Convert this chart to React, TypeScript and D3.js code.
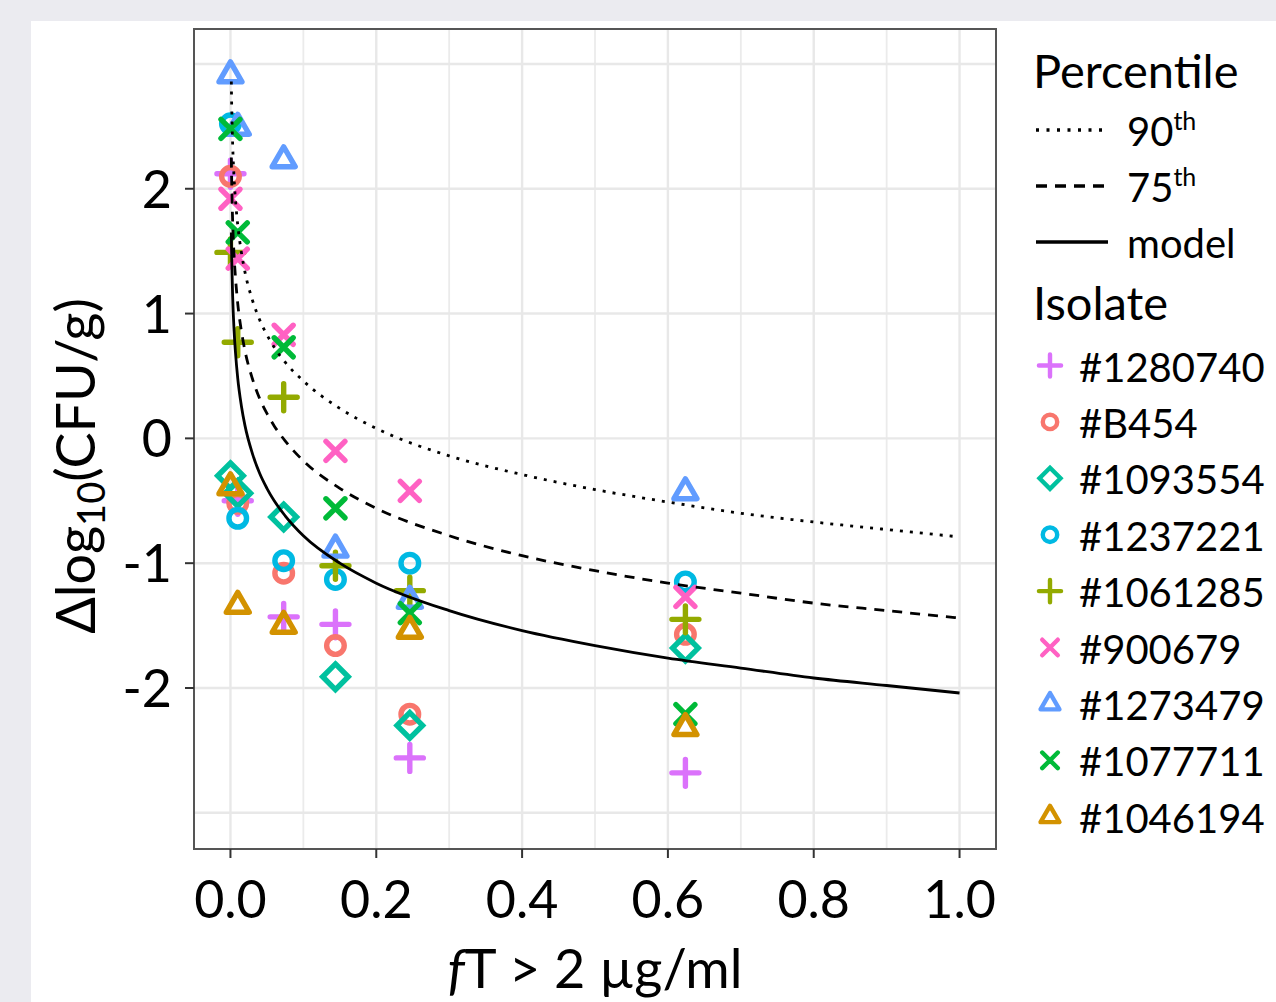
import React from 'react';
import * as d3 from 'd3';

// ---- data ----
const isolates = ['#1280740', '#B454', '#1093554', '#1237221', '#1061285', '#900679', '#1273479', '#1077711', '#1046194'];
const isolateColors = ['#DB72FB', '#F8766D', '#00C19F', '#00B9E3', '#93AA00', '#FF61C3', '#619CFF', '#00BA38', '#D39200'];
const isolateShapes = ['plus', 'circle', 'diamond', 'circle', 'plus', 'cross', 'triangle', 'cross', 'triangle'];

const doses = [0, 0.01, 0.073, 0.144, 0.246, 0.624];
const v1280740 = [2.12, -0.5, -1.43, -1.49, -2.56, -2.68];
const vB454 = [2.1, -0.52, -1.08, -1.66, -2.21, -1.57];
const v1093554 = [-0.3, -0.44, -0.63, -1.91, -2.3, -1.68];
const v1237221 = [2.52, -0.64, -0.98, -1.13, -1.0, -1.15];
const v1061285 = [1.49, 0.77, 0.33, -1.02, -1.22, -1.45];
const v900679 = [1.92, 1.44, 0.83, -0.1, -0.42, -1.27];
const v1273479 = [2.91, 2.49, 2.23, -0.89, -1.3, -0.43];
const v1077711 = [2.48, 1.65, 0.73, -0.56, -1.4, -2.21];
const v1046194 = [-0.39, -1.34, -1.5, null, -1.54, -2.32];
const isolateValues = [v1280740, vB454, v1093554, v1237221, v1061285, v900679, v1273479, v1077711, v1046194];

const curveX = [0.0012, 0.0015, 0.002, 0.003, 0.005, 0.007, 0.01, 0.015, 0.02, 0.03, 0.04, 0.05, 0.06, 0.075, 0.1, 0.15, 0.2, 0.3, 0.4, 0.5, 0.6, 0.7, 0.8, 0.9, 1.0];
const modelY = [1.65, 1.52, 1.37, 1.14, 0.86, 0.68, 0.48, 0.26, 0.1, -0.12, -0.28, -0.4, -0.5, -0.62, -0.78, -1.0, -1.16, -1.38, -1.54, -1.66, -1.76, -1.84, -1.92, -1.98, -2.04];
const p75Y = [2.25, 2.12, 1.97, 1.74, 1.46, 1.28, 1.08, 0.86, 0.7, 0.48, 0.32, 0.2, 0.1, -0.02, -0.18, -0.4, -0.56, -0.78, -0.94, -1.06, -1.16, -1.24, -1.32, -1.38, -1.44];
const p90Y = [2.86, 2.73, 2.58, 2.36, 2.08, 1.9, 1.71, 1.49, 1.33, 1.11, 0.95, 0.83, 0.73, 0.61, 0.46, 0.24, 0.08, -0.14, -0.29, -0.41, -0.51, -0.6, -0.67, -0.73, -0.79];

const xTicks = [0, 0.2, 0.4, 0.6, 0.8, 1.0];
const xMinor = [0.1, 0.3, 0.5, 0.7, 0.9];
const yTicks = [-2, -1, 0, 1, 2];
const yGrid = [-3, -2, -1, 0, 1, 2, 3];

const percentileLabels = ['90', '75', 'model'];
const percentileDash = ['3 7', '10 8', null];

const FONT = 'Lato, "Open Sans", sans-serif';

function Marker({ shape, cx, cy, color, k = 1 }: any) {
  const sw = 5.4 * k;
  if (shape === 'circle') return <circle cx={cx} cy={cy} r={8.8 * k} fill="none" stroke={color} strokeWidth={sw} />;
  if (shape === 'plus') {
    const a = 13.5 * k;
    return <path d={`M${cx - a},${cy}H${cx + a}M${cx},${cy - a}V${cy + a}`} stroke={color} strokeWidth={sw} strokeLinecap="round" fill="none" />;
  }
  if (shape === 'cross') {
    const a = 9.5 * k;
    return <path d={`M${cx - a},${cy - a}L${cx + a},${cy + a}M${cx - a},${cy + a}L${cx + a},${cy - a}`} stroke={color} strokeWidth={sw} strokeLinecap="round" fill="none" />;
  }
  if (shape === 'diamond') {
    const a = 12.8 * k;
    return <path d={`M${cx},${cy - a}L${cx + a},${cy}L${cx},${cy + a}L${cx - a},${cy}Z`} stroke={color} strokeWidth={sw} fill="none" />;
  }
  const s = 23 * k;
  const h = s * 0.866;
  return <path d={`M${cx},${cy - (2 * h) / 3}L${cx + s / 2},${cy + h / 3}L${cx - s / 2},${cy + h / 3}Z`} stroke={color} strokeWidth={sw} fill="none" strokeLinejoin="round" />;
}

export default function App() {
  const W = 1276, H = 1002;
  const left = 194, right = 996, top = 29, bottom = 849;
  const x = d3.scaleLinear().domain([-0.05, 1.05]).range([left, right]);
  const y = d3.scaleLinear().domain([-3.29, 3.28]).range([bottom, top]);

  const line = d3.line<number>().x((_, i) => x(curveX[i])).y((d) => y(d)).curve(d3.curveMonotoneX);
  const curves = [p90Y, p75Y, modelY];

  return (
    <svg width={W} height={H} style={{ position: 'absolute', left: 0, top: 0 }} fontFamily={FONT}>
      <rect x={0} y={0} width={W} height={H} fill="#ebebf0" />
      <rect x={31} y={21} width={W - 31} height={H - 21} fill="#ffffff" />
      {/* panel */}
      <rect x={left} y={top} width={right - left} height={bottom - top} fill="#ffffff" />
      {xMinor.map((t) => (
        <line key={'xm' + t} x1={x(t)} x2={x(t)} y1={top} y2={bottom} stroke="#ebebeb" strokeWidth={1.8} />
      ))}
      {xTicks.map((t) => (
        <line key={'xg' + t} x1={x(t)} x2={x(t)} y1={top} y2={bottom} stroke="#e8e8e8" strokeWidth={2.4} />
      ))}
      {yGrid.map((t) => (
        <line key={'yg' + t} x1={left} x2={right} y1={y(t)} y2={y(t)} stroke="#e8e8e8" strokeWidth={2.4} />
      ))}
      {/* points */}
      {isolates.map((name, i) =>
        isolateValues[i].map((v, j) =>
          v === null ? null : (
            <Marker key={name + j} shape={isolateShapes[i]} cx={x(doses[j])} cy={y(v)} color={isolateColors[i]} />
          )
        )
      )}
      {/* curves */}
      {curves.map((c, i) => (
        <path key={'c' + i} d={line(c) || ''} fill="none" stroke="#000" strokeWidth={2.8}
          strokeDasharray={percentileDash[i] || undefined} strokeLinecap="butt" />
      ))}
      <rect x={left} y={top} width={right - left} height={bottom - top} fill="none" stroke="#555" strokeWidth={2} />
      {/* axes */}
      {xTicks.map((t) => (
        <g key={'xt' + t}>
          <line x1={x(t)} x2={x(t)} y1={bottom} y2={bottom + 9} stroke="#333" strokeWidth={2} />
          <text x={x(t)} y={918} textAnchor="middle" fontSize={52} fill="#000">{t.toFixed(1)}</text>
        </g>
      ))}
      {yTicks.map((t) => (
        <g key={'yt' + t}>
          <line x1={left - 9} x2={left} y1={y(t)} y2={y(t)} stroke="#333" strokeWidth={2} />
          <text x={172} y={y(t) + 19} textAnchor="end" fontSize={52} fill="#000">{t}</text>
        </g>
      ))}
      <text x={(left + right) / 2} y={988} textAnchor="middle" fontSize={54} fill="#000">
        <tspan fontStyle="italic">f</tspan>T &gt; 2 µg/ml
      </text>
      <text transform="translate(95,466) rotate(-90)" textAnchor="middle" fontSize={54} fill="#000">
        Δlog<tspan dy={10} fontSize={38}>10</tspan><tspan dy={-10}>(CFU/g)</tspan>
      </text>
      {/* legend */}
      <text x={1033} y={88} fontSize={47} fill="#000">Percentile</text>
      {percentileLabels.map((lab, i) => {
        const base = 146 + i * 56;
        const ky = base - 16;
        return (
          <g key={'pl' + i}>
            <line x1={1036} x2={1108} y1={ky} y2={ky} stroke="#000" strokeWidth={3.4}
              strokeDasharray={i === 0 ? '3 7.5' : i === 1 ? '11 8' : undefined} />
            <text x={1127} y={base} fontSize={40} fill="#000">
              {lab}
              {i < 2 ? <tspan dy={-16} fontSize={25}>th</tspan> : null}
            </text>
          </g>
        );
      })}
      <text x={1033} y={320} fontSize={47} fill="#000">Isolate</text>
      {isolates.map((name, i) => {
        const base = 381.5 + i * 56.4;
        return (
          <g key={'il' + i}>
            <Marker shape={isolateShapes[i]} cx={1050} cy={base - 16} color={isolateColors[i]} k={0.82} />
            <text x={1079} y={base} fontSize={40} fill="#000">{name}</text>
          </g>
        );
      })}
    </svg>
  );
}
